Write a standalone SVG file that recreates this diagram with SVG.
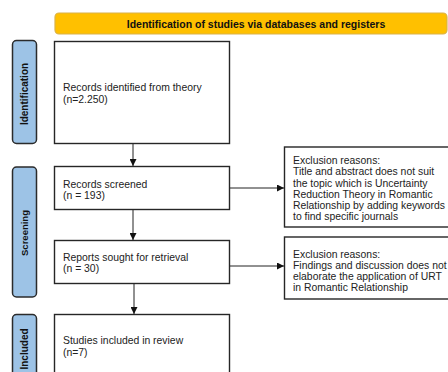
<svg xmlns="http://www.w3.org/2000/svg" width="448" height="372" viewBox="0 0 448 372">
<style>
.box{fill:#fff;stroke:#262626;stroke-width:1.4}
.side{fill:#9DC3E6;stroke:#2b2b2b;stroke-width:1.5}
.t{font-family:"Liberation Sans",Arial,sans-serif;font-size:10.4px;fill:#222}
.st{font-family:"Liberation Sans",Arial,sans-serif;font-size:10px;font-weight:bold;fill:#111;text-anchor:middle}
.hd{font-family:"Liberation Sans",Arial,sans-serif;font-size:10.5px;font-weight:bold;fill:#111;text-anchor:middle}
.c{stroke:#222;stroke-width:1;fill:none}
</style>
<defs>
<marker id="ah" viewBox="0 0 10 10" refX="10" refY="5" markerWidth="7" markerHeight="7" markerUnits="userSpaceOnUse" orient="auto">
<path d="M0,0 L10,5 L0,10 z" fill="#111"/>
</marker>
</defs>
<rect width="448" height="372" fill="#fff"/>
<g id="header">
<rect x="55" y="13" width="392" height="21" rx="4" fill="#FFC000" stroke="#D9B24A" stroke-width="1.2"/>
<text class="hd" x="256" y="28">Identification of studies via databases and registers</text>
</g>
<g id="side-identification">
<rect class="side" x="12.5" y="40.5" width="24" height="103" rx="4"/>
<text class="st" transform="translate(28,94) rotate(-90)">Identification</text>
</g>
<g id="side-screening">
<rect class="side" x="12.5" y="167" width="24" height="130" rx="4"/>
<text class="st" style="font-size:9.5px" transform="translate(27.5,233) rotate(-90)">Screening</text>
</g>
<g id="side-included">
<rect class="side" x="12.5" y="314.5" width="24" height="70" rx="4"/>
<text class="st" transform="translate(28,349) rotate(-90)">Included</text>
</g>
<g id="records-identified">
<rect class="box" x="54.5" y="41.5" width="175" height="102"/>
<text class="t" x="63" y="91">Records identified from theory</text>
<text class="t" x="63" y="102.5">(n=2.250)</text>
</g>
<g id="records-screened">
<rect class="box" x="54.5" y="166.5" width="175" height="43"/>
<text class="t" x="63" y="188">Records screened</text>
<text class="t" x="63" y="199">(n = 193)</text>
</g>
<g id="reports-sought">
<rect class="box" x="54.5" y="240.5" width="175" height="43"/>
<text class="t" x="63" y="261">Reports sought for retrieval</text>
<text class="t" x="63" y="271.5">(n = 30)</text>
</g>
<g id="studies-included">
<rect class="box" x="54.5" y="314.5" width="175" height="70"/>
<text class="t" x="63" y="344">Studies included in review</text>
<text class="t" x="63" y="355.5">(n=7)</text>
</g>
<g id="exclusion-1">
<rect class="box" x="284.5" y="147" width="180" height="80"/>
<text class="t" x="293" y="163.5">Exclusion reasons:</text>
<text class="t" x="293" y="175">Title and abstract does not suit</text>
<text class="t" x="293" y="186.5">the topic which is Uncertainty</text>
<text class="t" x="293" y="197.5">Reduction Theory in Romantic</text>
<text class="t" x="293" y="208.5">Relationship by adding keywords</text>
<text class="t" x="293" y="219.5">to find specific journals</text>
</g>
<g id="exclusion-2">
<rect class="box" x="284.5" y="237" width="180" height="62"/>
<text class="t" x="293" y="258">Exclusion reasons:</text>
<text class="t" x="293" y="269">Findings and discussion does not</text>
<text class="t" x="293" y="280">elaborate the application of URT</text>
<text class="t" x="293" y="291">in Romantic Relationship</text>
</g>
<g id="connectors">
<line class="c" x1="133" y1="144" x2="133" y2="166" marker-end="url(#ah)"/>
<line class="c" x1="133" y1="210" x2="133" y2="240" marker-end="url(#ah)"/>
<line class="c" x1="134" y1="284" x2="134" y2="314" marker-end="url(#ah)"/>
<line class="c" x1="230" y1="188" x2="284" y2="188" marker-end="url(#ah)"/>
<line class="c" x1="230" y1="266" x2="284" y2="266" marker-end="url(#ah)"/>
</g>
</svg>
